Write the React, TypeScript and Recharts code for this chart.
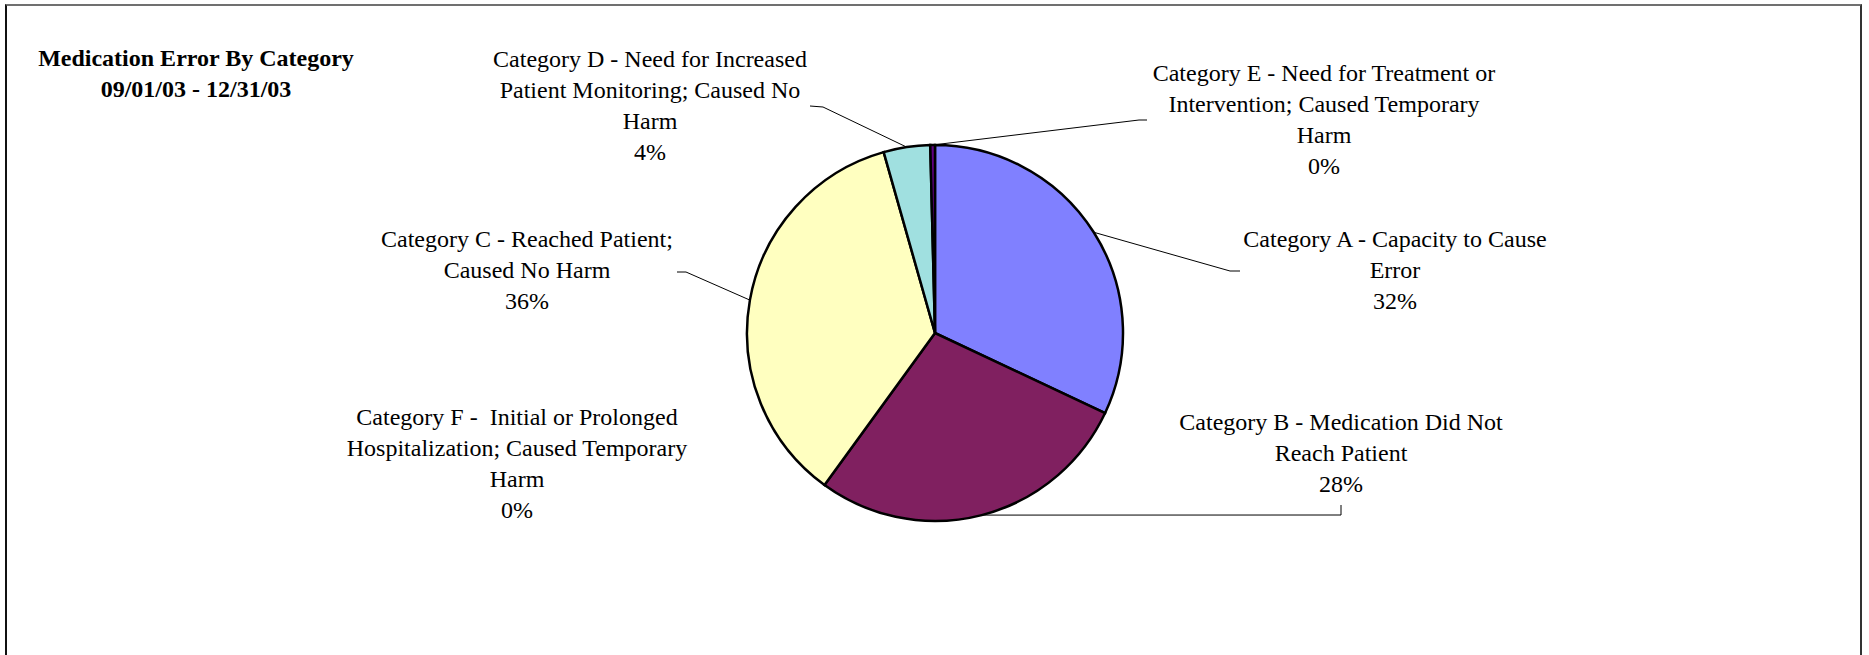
import { PieChart, Pie, Cell } from "recharts";

// Medication errors 09/01/03 - 12/31/03, counts
const categories = [
  "Category A - Capacity to Cause Error",
  "Category B - Medication Did Not Reach Patient",
  "Category C - Reached Patient; Caused No Harm",
  "Category D - Need for Increased Patient Monitoring; Caused No Harm",
  "Category E - Need for Treatment or Intervention; Caused Temporary Harm",
  "Category F -  Initial or Prolonged Hospitalization; Caused Temporary Harm",
];
const errorCounts = [80, 70, 89, 10, 1, 0];

// how the label text wraps in the original
const labelLines = [
  ["Category A - Capacity to Cause", "Error"],
  ["Category B - Medication Did Not", "Reach Patient"],
  ["Category C - Reached Patient;", "Caused No Harm"],
  ["Category D - Need for Increased", "Patient Monitoring; Caused No", "Harm"],
  ["Category E - Need for Treatment or", "Intervention; Caused Temporary", "Harm"],
  ["Category F -  Initial or Prolonged", "Hospitalization; Caused Temporary", "Harm"],
];

const titleLines = ["Medication Error By Category", "09/01/03 - 12/31/03"];

// old Excel default chart fills
const SLICE_COLORS = ["#8080FF", "#802060", "#FFFFC0", "#A0E0E0", "#600080", "#FF8080"];

const WIDTH = 1869;
const HEIGHT = 655;
const FONT = "'Times New Roman', 'Liberation Serif', serif";
const FONT_SIZE = 24;
const LINE_GAP = 31;

type Pt = [number, number];
// label placement relative to the pie centre (Excel lets labels be dragged around)
const LABEL_SPOTS: { dx: number; dy: number; leader?: Pt[] }[] = [
  { dx: 460, dy: -86, leader: [[295, -62], [305, -62]] },
  { dx: 406, dy: 97, leader: [[406, 182], [406, 172]] },
  { dx: -408, dy: -86, leader: [[-249, -61], [-258, -61]] },
  { dx: -285, dy: -266, leader: [[-112, -226], [-125, -227]] },
  { dx: 389, dy: -252, leader: [[204, -213], [212, -213]] },
  { dx: -418, dy: 92 },
];

const data = categories.map((name, i) => ({ name, value: errorCounts[i] }));

const renderLabel = (props: any) => {
  const { cx, cy, midAngle, outerRadius, percent, index } = props;
  const spot = LABEL_SPOTS[index];
  const lines = [...labelLines[index], `${Math.round(percent * 100)}%`];
  const rad = (-midAngle * Math.PI) / 180;
  const ex = cx + outerRadius * Math.cos(rad);
  const ey = cy + outerRadius * Math.sin(rad);
  const tx = cx + spot.dx;
  return (
    <g>
      {spot.leader && (
        <polyline
          points={[[ex, ey], ...spot.leader.map(([x, y]) => [cx + x, cy + y])]
            .map((p) => p.join(","))
            .join(" ")}
          fill="none"
          stroke="#000"
          strokeWidth={1}
        />
      )}
      <text
        x={tx}
        y={cy + spot.dy}
        textAnchor="middle"
        fontFamily={FONT}
        fontSize={FONT_SIZE}
        fill="#000"
        style={{ whiteSpace: "pre" }}
      >
        {lines.map((line, i) => (
          <tspan key={i} x={tx} dy={i === 0 ? 0 : LINE_GAP}>
            {line}
          </tspan>
        ))}
      </text>
    </g>
  );
};

const App = () => {
  return (
    <div
      style={{
        position: "absolute",
        left: 0,
        top: 0,
        width: WIDTH,
        height: HEIGHT,
        overflow: "hidden",
        background: "#fff",
      }}
    >
      <div
        style={{
          position: "absolute",
          left: 5,
          top: 4,
          width: 1853,
          height: 720,
          borderLeft: "2px solid #111",
          borderRight: "2px solid #333",
          borderTop: "2px solid #707070",
        }}
      />
      <svg width={WIDTH} height={HEIGHT} style={{ position: "absolute", left: 0, top: 0 }}>
        <text
          x={196}
          y={66}
          textAnchor="middle"
          fontFamily={FONT}
          fontSize={FONT_SIZE}
          fontWeight="bold"
        >
          {titleLines.map((line, i) => (
            <tspan key={i} x={196} dy={i === 0 ? 0 : LINE_GAP}>
              {line}
            </tspan>
          ))}
        </text>
      </svg>
      <div style={{ position: "absolute", left: 0, top: 0 }}>
        <PieChart width={WIDTH} height={HEIGHT} margin={{ top: 0, right: 0, bottom: 0, left: 0 }}>
          <Pie
            data={data}
            dataKey="value"
            nameKey="name"
            cx={935}
            cy={333}
            outerRadius={188}
            startAngle={90}
            endAngle={-270}
            stroke="#000"
            strokeWidth={2.5}
            label={renderLabel}
            labelLine={false}
            isAnimationActive={false}
          >
            {data.map((entry, index) => (
              <Cell key={entry.name} fill={SLICE_COLORS[index]} />
            ))}
          </Pie>
        </PieChart>
      </div>
    </div>
  );
};

export default App;
